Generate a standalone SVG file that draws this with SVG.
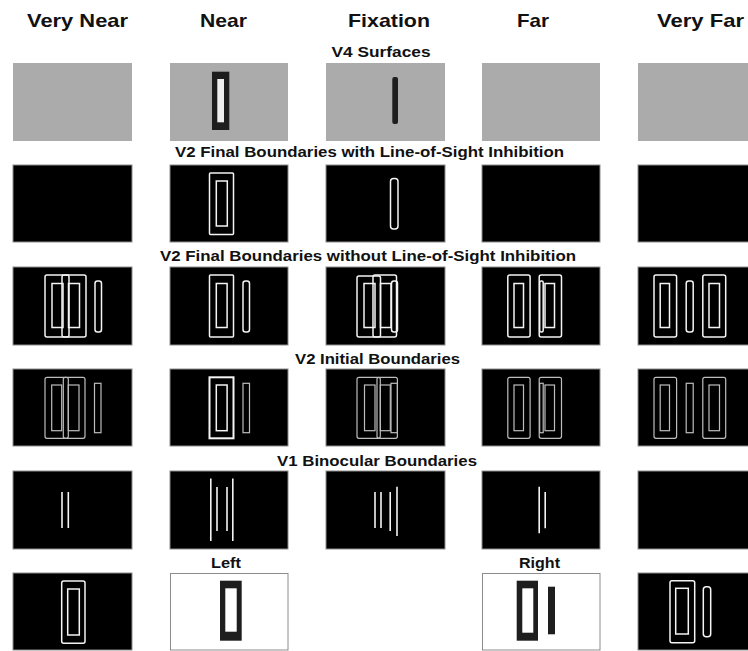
<svg xmlns="http://www.w3.org/2000/svg" width="748" height="651" viewBox="0 0 748 651">
<style>
.bg{fill:#fff}
.bk{fill:#000;stroke:#8c8c8c;stroke-width:1}
.gp{fill:#ababab}
.wp{fill:#fff;stroke:#8c8c8c;stroke-width:1}
.wl{fill:none;stroke:#f4f4f4;stroke-width:1.5}
.gl{fill:none;stroke:#bdbdbd;stroke-width:1.2}
.ln{stroke:#f4f4f4;stroke-width:1.6;fill:none}
.dk{fill:#1e1e1e}
.lt{fill:#efefef}
.hd{font-family:"Liberation Sans",Arial,sans-serif;font-weight:bold;font-size:19px;fill:#111;text-anchor:middle}
.sc{font-family:"Liberation Sans",Arial,sans-serif;font-weight:bold;font-size:15px;fill:#111;text-anchor:middle}
</style>
<rect class="bg" x="0" y="0" width="748" height="651"/>

<g id="headers">
<text class="hd" x="77.5" y="27" textLength="101" lengthAdjust="spacingAndGlyphs">Very Near</text>
<text class="hd" x="223.5" y="27" textLength="47" lengthAdjust="spacingAndGlyphs">Near</text>
<text class="hd" x="389" y="27" textLength="82" lengthAdjust="spacingAndGlyphs">Fixation</text>
<text class="hd" x="533" y="27" textLength="32" lengthAdjust="spacingAndGlyphs">Far</text>
<text class="hd" x="700.5" y="27" textLength="87" lengthAdjust="spacingAndGlyphs">Very Far</text>
</g>

<g id="section-labels">
<text class="sc" x="381" y="57" textLength="99" lengthAdjust="spacingAndGlyphs">V4 Surfaces</text>
<text class="sc" x="369.5" y="157" textLength="389" lengthAdjust="spacingAndGlyphs">V2 Final Boundaries with Line-of-Sight Inhibition</text>
<text class="sc" x="368" y="260.5" textLength="416" lengthAdjust="spacingAndGlyphs">V2 Final Boundaries without Line-of-Sight Inhibition</text>
<text class="sc" x="377.5" y="363.5" textLength="165" lengthAdjust="spacingAndGlyphs">V2 Initial Boundaries</text>
<text class="sc" x="377" y="465.5" textLength="200" lengthAdjust="spacingAndGlyphs">V1 Binocular Boundaries</text>
<text class="sc" x="226" y="568" textLength="30" lengthAdjust="spacingAndGlyphs">Left</text>
<text class="sc" x="539.5" y="568" textLength="41" lengthAdjust="spacingAndGlyphs">Right</text>
</g>

<!-- Row 1: V4 Surfaces -->
<g id="v4-very-near"><rect class="gp" x="13" y="63" width="119" height="78"/></g>
<g id="v4-near"><rect class="gp" x="170" y="63" width="118" height="78"/>
<rect class="dk" x="212" y="71.7" width="17.3" height="58.3"/><rect class="lt" x="217.3" y="79" width="6.7" height="43.3"/></g>
<g id="v4-fixation"><rect class="gp" x="326" y="63" width="119" height="78"/>
<rect class="dk" x="392.3" y="77" width="5.7" height="47" rx="2"/></g>
<g id="v4-far"><rect class="gp" x="482" y="63" width="118" height="78"/></g>
<g id="v4-very-far"><rect class="gp" x="638" y="63" width="118" height="78"/></g>

<!-- Row 2: V2 Final with LOS -->
<g id="v2los-very-near"><rect class="bk" x="13" y="165" width="119" height="77"/></g>
<g id="v2los-near"><rect class="bk" x="170" y="165" width="118" height="77"/>
<rect class="wl" x="209.5" y="173" width="24" height="61.5" rx="1"/><rect class="wl" x="216.3" y="181" width="11" height="45"/></g>
<g id="v2los-fixation"><rect class="bk" x="326" y="165" width="119" height="77"/>
<rect class="wl" x="390.5" y="178.5" width="7.5" height="50.5" rx="3"/></g>
<g id="v2los-far"><rect class="bk" x="482" y="165" width="118" height="77"/></g>
<g id="v2los-very-far"><rect class="bk" x="638" y="165" width="118" height="77"/></g>

<!-- Row 3: V2 Final without LOS -->
<g id="v2nolos-very-near"><rect class="bk" x="13" y="267" width="119" height="78"/>
<rect class="wl" x="45" y="275" width="24" height="62" rx="2"/><rect class="wl" x="52" y="283.5" width="11" height="44"/>
<rect class="wl" x="62" y="275" width="24" height="62" rx="2"/><rect class="wl" x="68.5" y="283.5" width="11" height="44"/>
<rect class="wl" x="95" y="281" width="6.5" height="51" rx="2.5"/></g>
<g id="v2nolos-near"><rect class="bk" x="170" y="267" width="118" height="78"/>
<rect class="wl" x="209.5" y="275" width="24" height="62" rx="1"/><rect class="wl" x="216.3" y="283.5" width="10.8" height="44"/>
<rect class="wl" x="243" y="281" width="6.5" height="51" rx="2.5"/></g>
<g id="v2nolos-fixation"><rect class="bk" x="326" y="267" width="119" height="78"/>
<rect class="wl" x="357" y="276" width="23.5" height="61" rx="2"/><rect class="wl" x="364" y="283.5" width="11" height="44"/>
<rect class="wl" x="373" y="275" width="23.5" height="62" rx="2"/><rect class="wl" x="380.5" y="283.5" width="10.5" height="44"/>
<rect class="wl" x="391.5" y="281" width="6" height="51" rx="2.5"/></g>
<g id="v2nolos-far"><rect class="bk" x="482" y="267" width="118" height="78"/>
<rect class="wl" x="507.8" y="275" width="22.3" height="62" rx="2"/><rect class="wl" x="514" y="283.5" width="9.5" height="44"/>
<rect class="wl" x="539.2" y="275" width="22.3" height="62" rx="2"/><rect class="wl" x="545" y="283.5" width="9.5" height="44"/>
<rect class="wl" x="539.7" y="281" width="3.5" height="51" rx="1.5"/></g>
<g id="v2nolos-very-far"><rect class="bk" x="638" y="267" width="118" height="78"/>
<rect class="wl" x="654" y="275" width="22.6" height="62" rx="2"/><rect class="wl" x="660.2" y="283.5" width="9.3" height="44"/>
<rect class="wl" x="686.2" y="281" width="7" height="51" rx="2.5"/>
<rect class="wl" x="702.8" y="275" width="22.9" height="62" rx="2"/><rect class="wl" x="709" y="283.5" width="10.5" height="44"/></g>

<!-- Row 4: V2 Initial -->
<g id="v2init-very-near"><rect class="bk" x="13" y="369" width="119" height="77"/>
<rect class="gl" x="45" y="377.3" width="23.3" height="61" rx="2"/><rect class="gl" x="51.7" y="385" width="10" height="45.7"/>
<rect class="gl" x="63.3" y="377.3" width="21.7" height="61" rx="2"/><rect class="gl" x="68.3" y="385" width="10.7" height="45.7"/>
<rect class="gl" x="94.5" y="383.3" width="6.5" height="49.4"/></g>
<g id="v2init-near"><rect class="bk" x="170" y="369" width="118" height="77"/>
<rect class="wl" x="209.5" y="377.3" width="24" height="61" style="stroke-width:2"/><rect class="wl" x="216.3" y="385" width="10.8" height="45.7"/>
<rect class="gl" x="243" y="383.3" width="6.5" height="49.4"/></g>
<g id="v2init-fixation"><rect class="bk" x="326" y="369" width="119" height="77"/>
<rect class="gl" x="357" y="377.3" width="23.3" height="61" rx="2"/><rect class="gl" x="364.5" y="385" width="10.5" height="45.7"/>
<rect class="gl" x="377" y="377.3" width="20.4" height="61" rx="2"/><rect class="gl" x="380.3" y="385" width="10" height="45.7"/>
<rect class="gl" x="391" y="383.3" width="6.4" height="49.4"/></g>
<g id="v2init-far"><rect class="bk" x="482" y="369" width="118" height="77"/>
<rect class="gl" x="507.8" y="377.3" width="22.3" height="61" rx="2"/><rect class="gl" x="514" y="385" width="9.5" height="45.7"/>
<rect class="gl" x="539.2" y="377.3" width="22.3" height="61" rx="2"/><rect class="gl" x="545" y="385" width="9.5" height="45.7"/>
<rect class="gl" x="539.7" y="383.3" width="3.5" height="49.4"/></g>
<g id="v2init-very-far"><rect class="bk" x="638" y="369" width="118" height="77"/>
<rect class="gl" x="654" y="377.3" width="22.6" height="61" rx="2"/><rect class="gl" x="660.2" y="385" width="9.3" height="45.7"/>
<rect class="gl" x="686.2" y="383.3" width="7" height="49.4"/>
<rect class="gl" x="702.8" y="377.3" width="22.9" height="61" rx="2"/><rect class="gl" x="709" y="385" width="10.5" height="45.7"/></g>

<!-- Row 5: V1 Binocular -->
<g id="v1-very-near"><rect class="bk" x="13" y="471" width="119" height="78"/>
<line class="ln" x1="62" y1="492" x2="62" y2="528"/><line class="ln" x1="68.3" y1="492" x2="68.3" y2="528"/></g>
<g id="v1-near"><rect class="bk" x="170" y="471" width="118" height="78"/>
<line class="ln" x1="210.8" y1="478.6" x2="210.8" y2="541"/><line class="ln" x1="217" y1="487" x2="217" y2="531"/>
<line class="ln" x1="227" y1="487" x2="227" y2="531"/><line class="ln" x1="232.8" y1="478.6" x2="232.8" y2="541"/></g>
<g id="v1-fixation"><rect class="bk" x="326" y="471" width="119" height="78"/>
<line class="ln" x1="375" y1="492" x2="375" y2="528"/><line class="ln" x1="381" y1="492" x2="381" y2="528"/>
<line class="ln" x1="390.2" y1="492" x2="390.2" y2="531"/><line class="ln" x1="397" y1="486.7" x2="397" y2="536"/></g>
<g id="v1-far"><rect class="bk" x="482" y="471" width="118" height="78"/>
<line class="ln" x1="539.2" y1="486.7" x2="539.2" y2="533.3"/><line class="ln" x1="545.2" y1="492" x2="545.2" y2="528.3"/></g>
<g id="v1-very-far"><rect class="bk" x="638" y="471" width="118" height="78"/></g>

<!-- Row 6: inputs -->
<g id="in-very-near"><rect class="bk" x="13" y="573" width="119" height="77"/>
<rect class="wl" x="61.7" y="581" width="23.3" height="62.3" rx="2"/><rect class="wl" x="67.7" y="589" width="11.6" height="46"/></g>
<g id="in-left"><rect class="wp" x="170.5" y="573.5" width="117.5" height="76.5"/>
<rect class="dk" x="220" y="580.7" width="21.7" height="60"/><rect fill="#fff" x="225.3" y="588.3" width="11.4" height="43.4"/></g>
<g id="in-right"><rect class="wp" x="482.5" y="573.5" width="117.5" height="76.5"/>
<rect class="dk" x="516.7" y="580.7" width="21.3" height="60"/><rect fill="#fff" x="522.3" y="588.3" width="11" height="44.4"/>
<rect class="dk" x="548" y="586.7" width="7" height="47.6"/></g>
<g id="in-very-far"><rect class="bk" x="638" y="573" width="118" height="77"/>
<rect class="wl" x="670" y="580.7" width="24.7" height="62" rx="2"/><rect class="wl" x="675.7" y="588.3" width="12.6" height="45.7"/>
<rect class="wl" x="703.3" y="586.7" width="7.4" height="50" rx="3"/></g>
</svg>
